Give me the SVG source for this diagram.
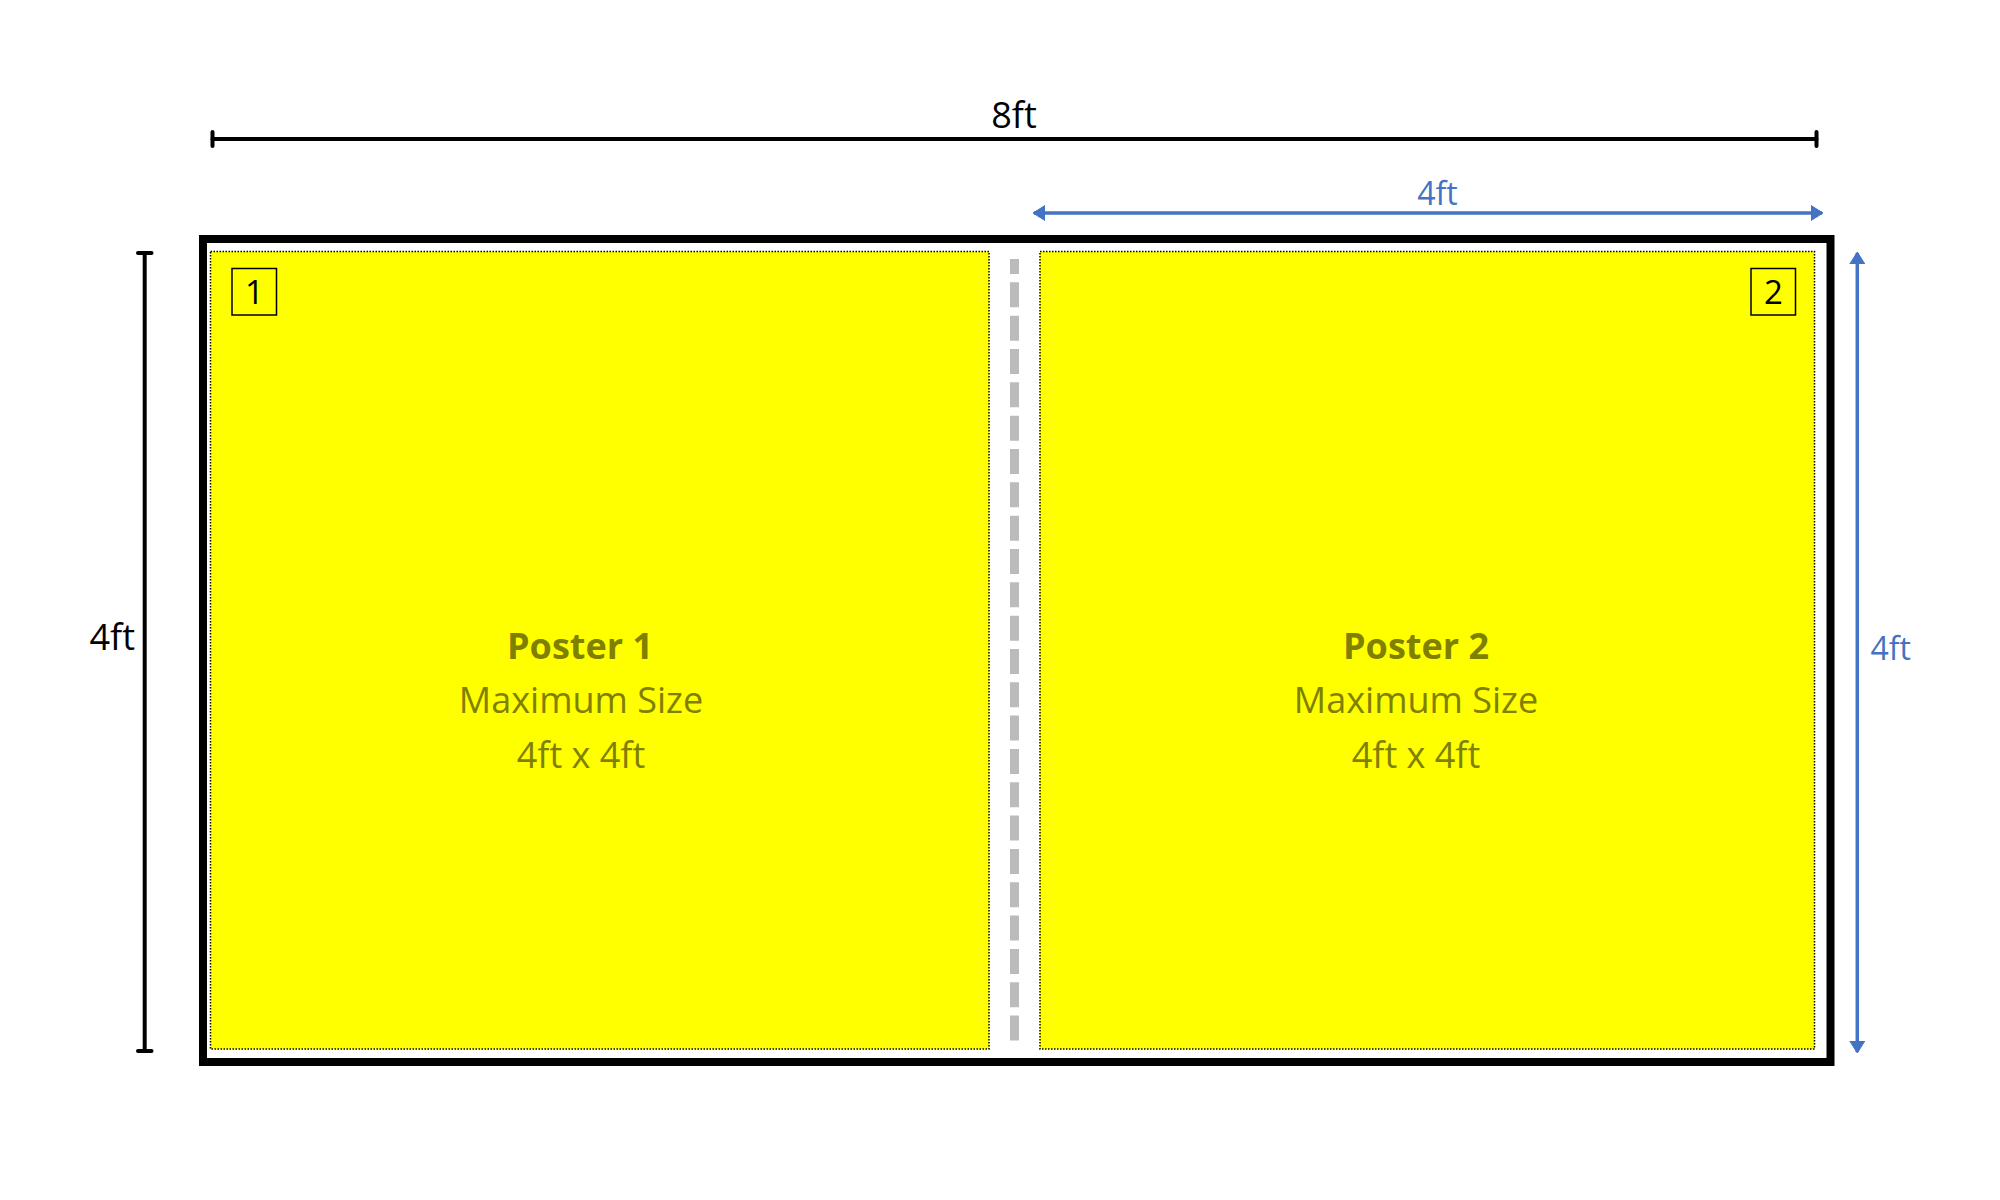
<svg xmlns="http://www.w3.org/2000/svg" width="2000" height="1200" viewBox="0 0 2000 1200">
  <defs>
    <style>
      .txt { font-family: "Open Sans", "Noto Sans", "Liberation Sans", sans-serif; }
      .dim { fill: #000000; font-size: 36px; }
      .bdim { fill: #4472C4; font-size: 32px; }
      .title { fill: #7F7F00; font-size: 36px; font-weight: bold; }
      .sub { fill: #7F7F00; font-size: 36px; }
      .poster { fill: #FFFF00; stroke: #000000; stroke-width: 1.5; stroke-dasharray: 1.5 1.5; }
      .num { fill: none; stroke: #000000; stroke-width: 1.5; }
      .numtxt { fill: #000000; font-size: 33px; }
      .blk { stroke: #000000; stroke-width: 4; stroke-linecap: round; fill: none; }
      .blu { stroke: #4472C4; stroke-width: 3.5; fill: none; }
    </style>
    <marker id="arrB" viewBox="0 0 12 16" refX="11" refY="8" markerWidth="12" markerHeight="16" markerUnits="userSpaceOnUse" orient="auto-start-reverse">
      <path d="M0,0.5 L12,8 L0,15.5 Z" fill="#4472C4" stroke="#4472C4" stroke-width="1" stroke-linejoin="round"/>
    </marker>
  </defs>

  <rect width="2000" height="1200" fill="#FFFFFF"/>

  <g id="frame">
    <rect x="203" y="239" width="1627.5" height="823" fill="#FFFFFF" stroke="#000000" stroke-width="8"/>
  </g>

  <g id="poster1">
    <rect class="poster" x="210.5" y="251.5" width="778.5" height="797.5"/>
    <rect class="num" x="232" y="268.5" width="44.5" height="46.5"/>
    <text class="txt numtxt" x="254.5" y="304" text-anchor="middle">1</text>
    <text class="txt title" x="580" y="659" text-anchor="middle">Poster 1</text>
    <text class="txt sub" x="581" y="713" text-anchor="middle">Maximum Size</text>
    <text class="txt sub" x="581" y="768" text-anchor="middle">4ft x 4ft</text>
  </g>

  <g id="poster2">
    <rect class="poster" x="1040" y="251.5" width="774.5" height="797.5"/>
    <rect class="num" x="1751" y="268.5" width="44.5" height="46.5"/>
    <text class="txt numtxt" x="1773.5" y="304" text-anchor="middle">2</text>
    <text class="txt title" x="1416" y="659" text-anchor="middle">Poster 2</text>
    <text class="txt sub" x="1416" y="713" text-anchor="middle">Maximum Size</text>
    <text class="txt sub" x="1416" y="768" text-anchor="middle">4ft x 4ft</text>
  </g>

  <g id="divider">
    <line x1="1014.5" y1="259" x2="1014.5" y2="1041" stroke="#BBBBBB" stroke-width="9" stroke-dasharray="25 8.33" stroke-dashoffset="10"/>
  </g>

  <g id="connectors">
    <!-- overall width 8ft -->
    <line class="blk" x1="212.5" y1="139" x2="1816.5" y2="139"/>
    <line class="blk" x1="212.5" y1="132" x2="212.5" y2="146"/>
    <line class="blk" x1="1816.5" y1="132" x2="1816.5" y2="146"/>
    <!-- overall height 4ft -->
    <line class="blk" x1="144.7" y1="253" x2="144.7" y2="1051"/>
    <line class="blk" x1="138" y1="253" x2="151.5" y2="253"/>
    <line class="blk" x1="138" y1="1051" x2="151.5" y2="1051"/>
    <!-- poster width 4ft -->
    <line class="blu" x1="1034" y1="213" x2="1822" y2="213" marker-start="url(#arrB)" marker-end="url(#arrB)"/>
    <!-- poster height 4ft -->
    <line class="blu" x1="1857.3" y1="253" x2="1857.3" y2="1052" marker-start="url(#arrB)" marker-end="url(#arrB)"/>
  </g>

  <g id="labels">
    <text class="txt dim" x="1014" y="128" text-anchor="middle">8ft</text>
    <text class="txt dim" x="135" y="650" text-anchor="end">4ft</text>
    <text class="txt bdim" x="1437.5" y="205" text-anchor="middle">4ft</text>
    <text class="txt bdim" x="1870.5" y="660">4ft</text>
  </g>
</svg>
